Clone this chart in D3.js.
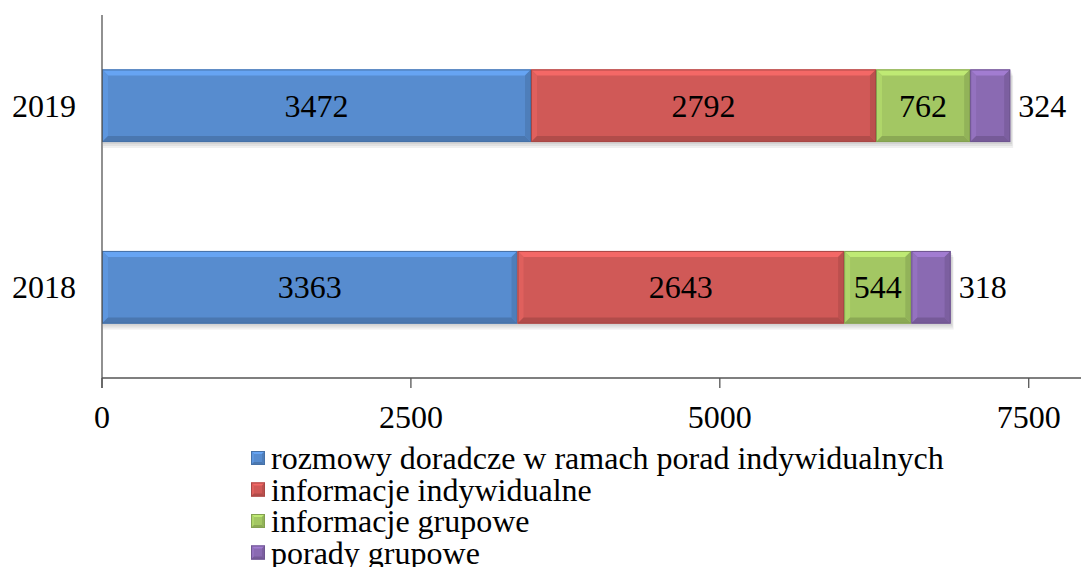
<!DOCTYPE html>
<html>
<head>
<meta charset="utf-8">
<script src="https://cdn.jsdelivr.net/npm/d3@7"></script>
</head>
<body style="margin:0">
<script>
const years = ["2019", "2018"];
const seriesNames = [
    "rozmowy doradcze w ramach porad indywidualnych",
    "informacje indywidualne",
    "informacje grupowe",
    "porady grupowe"
];
const rozmowy = [3472, 3363];
const infoInd = [2792, 2643];
const infoGrp = [762, 544];
const poradyGrp = [324, 318];
const ticks = [0, 2500, 5000, 7500];
const colors = ["#578CCF", "#D05957", "#A3C763", "#8A6AB2"];
const FONT = '"Liberation Serif"';

const width = 1081, height = 567;
const margin = {top: 15, right: 1, bottom: 189, left: 102};

const svg = d3.select("body").append("svg")
    .attr("width", width)
    .attr("height", height);

const x = d3.scaleLinear()
    .domain([0, 7915])
    .range([margin.left, width - margin.right]);

const y = d3.scaleBand()
    .domain(years)
    .range([margin.top, height - margin.bottom])
    .paddingInner(0.6)
    .paddingOuter(0.3);

const table = years.map((yr, i) => ({
    year: yr,
    values: [rozmowy[i], infoInd[i], infoGrp[i], poradyGrp[i]]
}));

const stack = d3.stack().keys([0, 1, 2, 3]).value((d, k) => d.values[k]);
const layers = stack(table);

// draws a bevelled box like the excel 3d style
function bevel(g, x0, y0, w, h, col, bw) {
    const c = d3.color(col);
    g.append("rect").attr("x", x0).attr("y", y0).attr("width", w).attr("height", h)
        .attr("fill", col);
    const pts = (arr) => arr.map(p => p.join(",")).join(" ");
    g.append("polygon")
        .attr("points", pts([[x0, y0], [x0 + w, y0], [x0 + w - bw, y0 + bw], [x0 + bw, y0 + bw]]))
        .attr("fill", c.brighter(0.45));
    g.append("polygon")
        .attr("points", pts([[x0, y0], [x0 + bw, y0 + bw], [x0 + bw, y0 + h - bw], [x0, y0 + h]]))
        .attr("fill", c.brighter(0.2));
    g.append("polygon")
        .attr("points", pts([[x0, y0 + h], [x0 + bw, y0 + h - bw], [x0 + w - bw, y0 + h - bw], [x0 + w, y0 + h]]))
        .attr("fill", c.darker(0.45));
    g.append("polygon")
        .attr("points", pts([[x0 + w, y0], [x0 + w, y0 + h], [x0 + w - bw, y0 + h - bw], [x0 + w - bw, y0 + bw]]))
        .attr("fill", c.darker(0.3));
    g.append("rect").attr("x", x0 + 0.5).attr("y", y0 + 0.5).attr("width", w - 1).attr("height", h - 1)
        .attr("fill", "none").attr("stroke", c.darker(0.6)).attr("stroke-width", 1);
}

// soft shadow under each bar, a few faint offset rects
years.forEach((yr, i) => {
    const total = layers[3][i][1];
    [6, 4, 2].forEach(o => {
        svg.append("rect")
            .attr("x", x(0) + 1).attr("y", y(yr) + o)
            .attr("width", x(total) - x(0) + o / 3).attr("height", y.bandwidth())
            .attr("fill", "#000").attr("opacity", 0.06);
    });
});

layers.forEach((layer, k) => {
    layer.forEach((d, i) => {
        const g = svg.append("g");
        bevel(g, x(d[0]), y(years[i]), x(d[1]) - x(d[0]), y.bandwidth(), colors[k], 6);
    });
});

layers.forEach((layer, k) => {
    layer.forEach((d, i) => {
        const val = d.data.values[k];
        const lx = k === 3 ? x(d[1]) + 8 : (x(d[0]) + x(d[1])) / 2;
        svg.append("text")
            .attr("x", lx)
            .attr("y", y(years[i]) + y.bandwidth() / 2)
            .attr("dy", "0.35em")
            .attr("text-anchor", k === 3 ? "start" : "middle")
            .style("font-family", FONT)
            .style("font-size", "32px")
            .text(val);
    });
});

// axes
const axisY = height - margin.bottom;
svg.append("line")
    .attr("x1", x(0)).attr("x2", x(0))
    .attr("y1", margin.top).attr("y2", axisY + 10)
    .attr("stroke", "#555").attr("stroke-width", 1.3);
svg.append("line")
    .attr("x1", x(0)).attr("x2", width)
    .attr("y1", axisY).attr("y2", axisY)
    .attr("stroke", "#555").attr("stroke-width", 1.3);

svg.selectAll(".tick").data(ticks).join("line")
    .attr("x1", d => x(d)).attr("x2", d => x(d))
    .attr("y1", axisY).attr("y2", axisY + 10)
    .attr("stroke", "#555").attr("stroke-width", 1.3);

svg.selectAll(".tlab").data(ticks).join("text")
    .attr("x", d => x(d))
    .attr("y", axisY + 50)
    .attr("text-anchor", "middle")
    .style("font-family", FONT)
    .style("font-size", "32px")
    .text(d => d);

svg.selectAll(".ylab").data(years).join("text")
    .attr("x", 76)
    .attr("y", d => y(d) + y.bandwidth() / 2)
    .attr("dy", "0.35em")
    .attr("text-anchor", "end")
    .style("font-family", FONT)
    .style("font-size", "32px")
    .text(d => d);

// legend
seriesNames.forEach((name, k) => {
    const ly = 458 + k * 31.5;
    const g = svg.append("g");
    bevel(g, 251, ly - 7, 14, 14, colors[k], 3);
    svg.append("text")
        .attr("x", 271)
        .attr("y", ly)
        .attr("dy", "0.35em")
        .style("font-family", FONT)
        .style("font-size", "32px")
        .text(name);
});
</script>
</body>
</html>
